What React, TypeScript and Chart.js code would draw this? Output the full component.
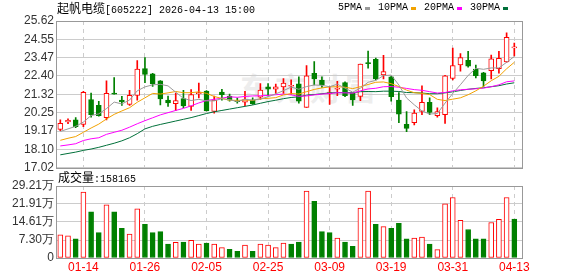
import React, { useEffect, useRef } from 'react';
import { Chart, registerables } from 'chart.js';

Chart.register(...registerables);

const dates = ['01-09','01-12','01-13','01-14','01-15','01-16','01-19','01-20','01-21','01-22','01-23','01-26','01-27','01-28','01-29','01-30','02-02','02-03','02-04','02-05','02-06','02-09','02-10','02-11','02-12','02-13','02-24','02-25','02-26','02-27','03-02','03-03','03-04','03-05','03-06','03-09','03-10','03-11','03-12','03-13','03-16','03-17','03-18','03-19','03-20','03-23','03-24','03-25','03-26','03-27','03-30','03-31','04-01','04-02','04-03','04-07','04-08','04-09','04-10','04-13'];

const opens = [19.27,19.71,19.83,19.56,21.02,20.68,19.95,21.40,20.98,20.74,21.26,22.83,22.53,22.11,20.98,20.78,21.08,20.62,21.36,21.52,20.33,21.46,21.22,20.93,20.86,20.98,21.16,21.76,21.62,21.76,21.80,21.94,20.56,22.55,22.16,21.37,21.62,22.01,21.40,21.20,23.16,23.37,22.46,22.35,20.98,19.56,19.67,20.32,20.86,20.07,20.13,22.25,23.05,23.31,22.81,22.59,22.71,22.83,23.23,24.05];
const highs = [19.83,19.89,19.96,21.50,21.40,20.92,22.11,22.31,21.20,21.56,23.30,23.47,22.55,22.13,21.22,21.40,21.56,21.60,21.99,21.55,21.22,21.62,21.34,21.10,21.50,21.12,21.95,21.95,21.92,22.25,22.17,22.35,23.01,23.25,22.35,21.79,22.08,22.05,21.42,23.10,23.86,23.45,23.61,22.38,21.42,20.32,20.41,21.82,21.12,20.54,22.43,24.04,23.71,23.85,23.04,22.62,23.63,23.85,24.92,24.32];
const lows = [19.19,19.61,19.37,19.43,19.98,20.04,19.83,21.34,20.68,20.68,20.98,22.01,21.79,20.71,20.62,20.36,20.54,20.38,21.12,20.35,20.22,20.98,20.92,20.80,20.66,20.74,21.02,21.22,21.38,21.38,21.34,20.80,20.56,21.88,21.73,20.74,21.25,21.18,20.68,20.95,22.85,22.17,22.22,20.92,19.67,19.13,19.53,20.13,20.13,19.98,19.62,22.17,22.68,22.91,22.29,21.79,22.22,22.56,23.19,23.57];
const closes = [19.62,19.80,19.43,21.44,20.13,20.08,21.38,21.34,20.88,21.26,22.81,22.49,21.94,21.06,20.82,20.96,20.65,21.31,21.42,20.35,20.98,21.30,20.98,20.89,21.02,20.78,21.58,21.62,21.76,21.98,21.83,20.92,22.41,22.22,21.88,21.43,21.67,21.25,21.00,23.09,23.12,22.22,22.65,21.18,20.16,19.33,20.22,20.86,20.26,20.31,22.41,23.01,23.47,22.97,22.41,22.11,23.41,23.43,24.66,24.08];

// volume in 万 (10k) units
const volumes = [9.44,9.0,7.75,26.7,18.75,10.3,21.6,18.75,12.0,9.74,19.9,13.7,10.3,10.7,5.63,6.35,6.48,7.2,5.63,6.05,5.63,4.23,3.5,2.67,5.2,2.67,5.63,5.2,4.23,6.05,5.63,6.48,27.1,23.0,10.7,10.3,8.04,6.48,4.78,20.3,27.1,13.7,12.7,12.0,14.1,7.75,8.04,8.47,5.63,3.39,22.0,24.56,15.24,11.56,7.75,7.75,14.4,15.7,24.56,15.8165];

const ma5 = [19.15,19.30,19.45,19.70,20.08,20.18,20.49,20.87,20.76,20.99,21.53,21.76,21.88,21.91,21.82,21.45,21.09,20.96,21.03,20.94,20.94,21.07,21.01,20.90,21.03,20.99,21.05,21.18,21.35,21.54,21.75,21.62,21.78,21.87,21.85,21.77,21.92,21.69,21.45,21.69,22.03,22.14,22.42,22.45,21.87,21.11,20.71,20.35,20.17,20.20,20.81,21.37,21.89,22.43,22.85,22.79,22.87,22.87,23.20,23.54];
const ma10 = [18.63,18.75,18.85,19.10,19.35,19.58,19.88,20.15,20.35,20.54,20.86,21.12,21.38,21.34,21.41,21.49,21.42,21.42,21.47,21.38,21.20,21.08,20.98,20.97,20.99,20.97,21.06,21.09,21.13,21.29,21.37,21.34,21.48,21.61,21.70,21.76,21.77,21.74,21.66,21.77,21.90,22.03,22.05,21.95,21.78,21.57,21.42,21.38,21.31,21.03,20.96,21.04,21.12,21.30,21.53,21.80,22.12,22.38,22.82,23.20];
const ma20 = [18.30,18.36,18.43,18.62,18.72,18.78,18.98,19.10,19.22,19.40,19.60,19.78,19.95,20.12,20.25,20.38,20.50,20.65,20.82,20.96,21.03,21.10,21.18,21.15,21.20,21.23,21.24,21.26,21.30,21.34,21.29,21.21,21.23,21.29,21.34,21.37,21.42,21.41,21.39,21.53,21.64,21.68,21.77,21.78,21.74,21.67,21.60,21.56,21.48,21.40,21.43,21.53,21.59,21.62,21.65,21.69,21.77,21.88,22.06,22.11];
const ma30 = [17.78,17.86,17.94,18.04,18.12,18.22,18.34,18.46,18.60,18.78,19.02,19.30,19.45,19.56,19.66,19.76,19.86,19.96,20.08,20.20,20.30,20.38,20.46,20.54,20.62,20.70,20.80,20.90,20.98,21.07,21.14,21.18,21.28,21.31,21.36,21.41,21.42,21.42,21.42,21.48,21.49,21.48,21.51,21.51,21.49,21.43,21.42,21.40,21.36,21.36,21.41,21.47,21.55,21.62,21.67,21.71,21.77,21.83,21.93,22.00];

const maNames = ['5PMA', '10PMA', '20PMA', '30PMA'];
const maSeries = [ma5, ma10, ma20, ma30];
const maColors = ['#9a9a9a', '#f2a200', '#ff00ff', '#00703a'];

const xTickLabels = ['01-14', '01-26', '02-05', '02-25', '03-09', '03-19', '03-31', '04-13'];
const priceTickLabels = ['17.02', '18.10', '19.17', '20.25', '21.32', '22.40', '23.47', '24.55', '25.62'];
const volTickLabels = ['0', '7.30万', '14.61万', '21.91万', '29.21万'];

const stockName = '起帆电缆';
const stockInfo = '[605222] 2026-04-13 15:00';
const volTitle = '成交量:158165';
const watermark = '东方财富';

const RED = '#ff0000';
const GREEN = '#008000';
const X_MIN = -0.43;
const X_MAX = 60;

const idx = closes.map((_, i) => i);
const candleUp = idx.map((i) => closes[i] >= opens[i]);
const volUp = idx.map((i) => (i === 0 ? closes[i] >= opens[i] : closes[i] >= closes[i - 1]));
const tickIdx = xTickLabels.map((d) => dates.indexOf(d));

const framePlugin = {
  id: 'frame',
  afterDraw(chart: any) {
    const { ctx, chartArea: a } = chart;
    ctx.save();
    ctx.strokeStyle = '#999999';
    ctx.lineWidth = 1;
    const l = Math.round(a.left) - 0.5;
    const t = Math.round(a.top) + 0.5;
    const r = Math.round(a.right) + 0.5;
    const b = Math.round(a.bottom) + 0.5;
    ctx.strokeRect(l, t, r - l, b - t);
    ctx.restore();
  },
};

const axisFont = { family: '"Liberation Sans", Arial, sans-serif', size: 12 };

export default function App() {
  const mainRef = useRef<HTMLCanvasElement>(null);
  const volRef = useRef<HTMLCanvasElement>(null);

  useEffect(() => {
    const xScale = (showLabels: boolean) => ({
      type: 'linear' as const,
      min: X_MIN,
      max: X_MAX,
      offset: false,
      afterBuildTicks: (s: any) => {
        s.ticks = tickIdx.map((v) => ({ value: v }));
      },
      ticks: {
        display: showLabels,
        autoSkip: false,
        maxRotation: 0,
        minRotation: 0,
        padding: 2,
        color: RED,
        font: axisFont,
        callback: (v: any) => dates[v as number],
      },
      grid: { color: '#cccccc', drawTicks: false, offset: false, lineWidth: 1 },
      border: { display: false, dash: [4, 4] },
    });

    const yScale = (labels: string[], minV: number) => ({
      min: minV,
      max: parseFloat(labels[labels.length - 1]),
      afterBuildTicks: (s: any) => {
        s.ticks = labels.map((l) => ({ value: parseFloat(l) }));
      },
      afterFit: (s: any) => {
        s.width = 57;
      },
      ticks: {
        padding: 3,
        autoSkip: false,
        color: '#333333',
        font: axisFont,
        callback: (_v: any, i: number) => labels[i],
      },
      grid: { color: '#cccccc', drawTicks: false, lineWidth: 1 },
      border: { display: false },
    });

    const main = new Chart(mainRef.current as HTMLCanvasElement, {
      type: 'bar',
      data: {
        datasets: [
          ...maSeries.map((s, k) => ({
            type: 'line' as const,
            label: maNames[k],
            data: s.map((v, i) => ({ x: i, y: v })),
            borderColor: maColors[k],
            borderWidth: 1,
            pointRadius: 0,
            tension: 0,
            fill: false,
            order: 0,
          })),
          {
            type: 'bar' as const,
            label: 'body',
            data: idx.map((i) => ({ x: i, y: [opens[i], closes[i]] })) as any,
            backgroundColor: idx.map((i) => (candleUp[i] ? '#ffffff' : GREEN)),
            borderColor: idx.map((i) => (candleUp[i] ? RED : GREEN)),
            borderWidth: 1,
            borderSkipped: false,
            barThickness: 5,
            minBarLength: 1,
            grouped: false,
            order: 1,
          },
          {
            type: 'bar' as const,
            label: 'wick',
            data: idx.map((i) => ({ x: i, y: [lows[i], highs[i]] })) as any,
            backgroundColor: idx.map((i) => (candleUp[i] ? RED : GREEN)),
            borderWidth: 0,
            barThickness: 1,
            grouped: false,
            order: 2,
          },
        ],
      },
      options: {
        animation: false,
        responsive: false,
        maintainAspectRatio: false,
        layout: { padding: { left: 0, right: 56, top: 21, bottom: 10 } },
        plugins: { legend: { display: false }, tooltip: { enabled: false } },
        scales: {
          x: xScale(false) as any,
          y: yScale(priceTickLabels, parseFloat(priceTickLabels[0])) as any,
        },
      },
      plugins: [framePlugin],
    });

    const vol = new Chart(volRef.current as HTMLCanvasElement, {
      type: 'bar',
      data: {
        datasets: [
          {
            label: 'volume',
            data: idx.map((i) => ({ x: i, y: volumes[i] })) as any,
            backgroundColor: idx.map((i) => (volUp[i] ? '#ffffff' : GREEN)),
            borderColor: idx.map((i) => (volUp[i] ? RED : GREEN)),
            borderWidth: 1,
            borderSkipped: false,
            barThickness: 5,
            grouped: false,
          },
        ],
      },
      options: {
        animation: false,
        responsive: false,
        maintainAspectRatio: false,
        layout: { padding: { left: 0, right: 56, top: 14, bottom: 4.6 } },
        plugins: { legend: { display: false }, tooltip: { enabled: false } },
        scales: {
          x: xScale(true) as any,
          y: yScale(volTickLabels, 0) as any,
        },
      },
      plugins: [framePlugin],
    });

    return () => {
      main.destroy();
      vol.destroy();
    };
  }, []);

  const mono = '"Liberation Mono", "DejaVu Sans Mono", monospace';
  const cjk = '"Noto Sans CJK SC", sans-serif';

  return (
    <div style={{ position: 'absolute', left: 0, top: 0, width: 578, height: 276, background: '#ffffff', overflow: 'hidden' }}>
      <div
        style={{
          position: 'absolute',
          left: 240,
          top: 70,
          fontFamily: cjk,
          fontSize: 31,
          fontWeight: 700,
          lineHeight: '34px',
          letterSpacing: 4,
          color: '#ededed',
          whiteSpace: 'nowrap',
        }}
      >
        {watermark}
      </div>
      <canvas ref={mainRef} width={578} height={178} style={{ position: 'absolute', left: 0, top: 0 }} />
      <canvas ref={volRef} width={578} height={109} style={{ position: 'absolute', left: 0, top: 172 }} />
      <div style={{ position: 'absolute', left: 57, top: 1, lineHeight: '14px', whiteSpace: 'nowrap', color: '#000' }}>
        <span style={{ fontFamily: cjk, fontSize: 12 }}>{stockName}</span>
        <span style={{ fontFamily: mono, fontSize: 10 }}>{stockInfo}</span>
      </div>
      <div style={{ position: 'absolute', left: 338, top: 1, lineHeight: '14px', whiteSpace: 'nowrap', display: 'flex', alignItems: 'center' }}>
        {maNames.map((n, k) => (
          <span key={n} style={{ display: 'inline-flex', alignItems: 'center', marginRight: 8 }}>
            <span style={{ fontFamily: mono, fontSize: 10, color: '#000' }}>{n}</span>
            <span style={{ display: 'inline-block', width: 5, height: 3, marginLeft: 3, background: maColors[k] }} />
          </span>
        ))}
      </div>
      <div style={{ position: 'absolute', left: 58, top: 170, lineHeight: '14px', whiteSpace: 'nowrap', color: '#000' }}>
        <span style={{ fontFamily: cjk, fontSize: 12 }}>{volTitle.slice(0, 3)}</span>
        <span style={{ fontFamily: mono, fontSize: 10 }}>{volTitle.slice(3)}</span>
      </div>
    </div>
  );
}
